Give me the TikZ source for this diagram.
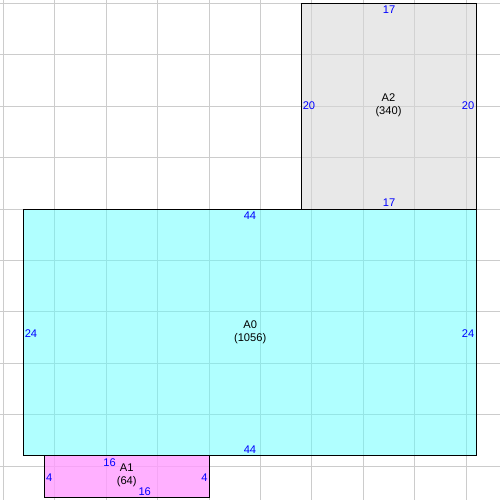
\documentclass[tikz,border=0pt]{standalone}
\usepackage{fontspec}
\setmainfont{Liberation Sans}
\definecolor{gridc}{RGB}{204,204,204}
\definecolor{cyanf}{RGB}{97,255,255}
\definecolor{greyf}{RGB}{215,215,215}
\definecolor{pinkf}{RGB}{255,156,255}
\definecolor{numc}{RGB}{0,0,255}
\begin{document}
\begin{tikzpicture}[x=0.25cm,y=-0.25cm,
  gridline/.style={draw=gridc,line width=0.6pt},
  area/.style={draw=black,line width=0.7pt},
  dimlabel/.style={text=numc,font=\fontsize{7.7}{9}\selectfont,inner sep=0pt},
  arealabel/.style={font=\fontsize{7.7}{9}\selectfont,align=center,inner sep=0pt}]
\useasboundingbox (-0.32,-0.32) rectangle (48.29,48.29);
% grid
\foreach \k in {0,5,...,45} {
  \draw[gridline] (\k,-0.32) -- (\k,48.29);
  \draw[gridline] (-0.32,\k) -- (48.29,\k);
}
% corners
\coordinate (a0nw) at (2,20);  \coordinate (a0se) at (46,44);
\coordinate (a2nw) at (29,0);  \coordinate (a2se) at (46,20);
\coordinate (a1nw) at (4,44);  \coordinate (a1se) at (20,48);
% fills
\fill[cyanf,fill opacity=0.5] (a0nw) rectangle (a0se);
\fill[greyf,fill opacity=0.57] (a2nw) rectangle (a2se);
\fill[pinkf,fill opacity=0.8] (a1nw) rectangle (a1se);
% borders
\draw[area] (a0nw) rectangle (a0se);
\draw[area] (a2nw) rectangle (a2se);
\draw[area] (a1nw) rectangle (a1se);
% A2 labels
\node[arealabel] (a2name) at (37.45,9.95) {A2\\(340)};
\node[dimlabel] (a2top) at (37.5,0.65) {17};
\node[dimlabel] (a2bot) at (37.5,19.42) {17};
\node[dimlabel] (a2left) at (29.72,10) {20};
\node[dimlabel] (a2right) at (45.18,10) {20};
% A0 labels
\node[arealabel] (a0name) at (24,32) {A0\\(1056)};
\node[dimlabel] (a0top) at (23.98,20.68) {44};
\node[dimlabel] (a0bot) at (23.98,43.43) {44};
\node[dimlabel] (a0left) at (2.69,32.1) {24};
\node[dimlabel] (a0right) at (45.18,32.1) {24};
% A1 labels
\node[arealabel] (a1name) at (12,45.9) {A1\\(64)};
\node[dimlabel] (a1top) at (10.34,44.7) {16};
\node[dimlabel] (a1bot) at (13.75,47.45) {16};
\node[dimlabel] (a1left) at (4.47,46.1) {4};
\node[dimlabel] (a1right) at (19.56,46.1) {4};
\end{tikzpicture}
\end{document}
